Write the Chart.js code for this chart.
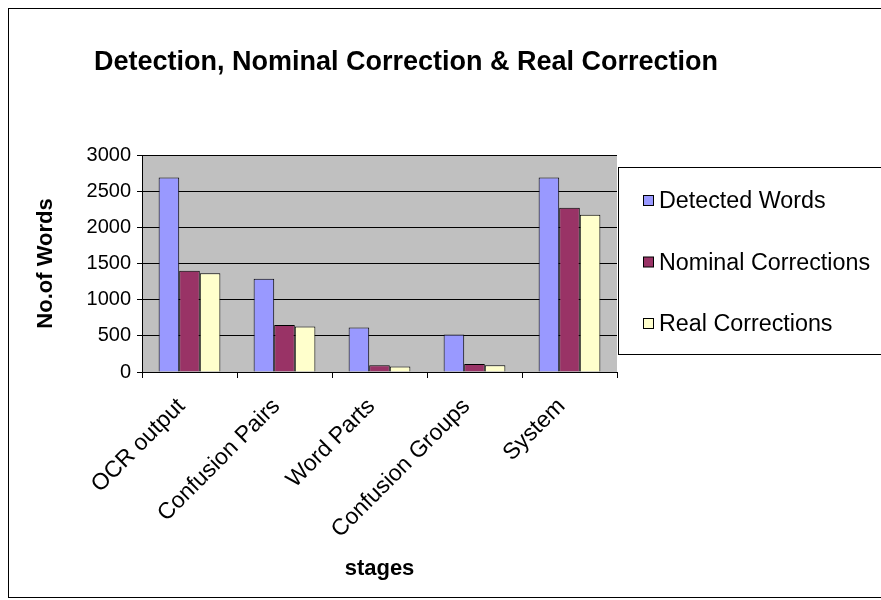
<!DOCTYPE html>
<html>
<head>
<meta charset="utf-8">
<style>
  html, body { margin: 0; padding: 0; background: #fff; }
  #wrap { width: 881px; height: 600px; }
</style>
</head>
<body>
<div id="wrap"><canvas id="myChart" width="881" height="600"></canvas></div>
<script src="https://cdn.jsdelivr.net/npm/chart.js"></script>
<script>
const stages = ["OCR output", "Confusion Pairs", "Word Parts", "Confusion Groups", "System"];
const detectedWords = [2690, 1290, 615, 520, 2690];
const nominalCorrections = [1400, 650, 92, 110, 2270];
const realCorrections = [1365, 630, 75, 92, 2175];
const yTicks = [0, 500, 1000, 1500, 2000, 2500, 3000];

const FONT = "'Liberation Sans', Arial, sans-serif";

// frame, title, grey plot area and the boxed legend
const decor = {
  id: "decor",
  beforeDraw(chart) {
    const ctx = chart.ctx;
    const a = chart.chartArea;
    ctx.save();
    ctx.fillStyle = "#fff";
    ctx.fillRect(0, 0, chart.width, chart.height);
    ctx.strokeStyle = "#000";
    ctx.lineWidth = 1;
    ctx.strokeRect(8.5, 8.5, 900, 589);
    ctx.fillStyle = "#c0c0c0";
    ctx.fillRect(a.left, a.top, a.right - a.left, a.bottom - a.top);
    ctx.fillStyle = "#000";
    ctx.font = "bold 27px " + FONT;
    ctx.textAlign = "center";
    ctx.textBaseline = "middle";
    ctx.fillText("Detection, Nominal Correction & Real Correction", 406, 63);
    ctx.restore();
  },
  afterDraw(chart) {
    const ctx = chart.ctx;
    ctx.save();
    ctx.fillStyle = "#fff";
    ctx.fillRect(618.5, 167.5, 300, 187);
    ctx.strokeStyle = "#000";
    ctx.lineWidth = 1;
    ctx.strokeRect(618.5, 167.5, 300, 187);
    ctx.font = "23.3px " + FONT;
    ctx.textBaseline = "middle";
    chart.data.datasets.forEach((ds, i) => {
      const y = 201 + i * 61.5;
      ctx.fillStyle = ds.backgroundColor;
      ctx.fillRect(643.5, y - 5.5, 10, 10);
      ctx.strokeRect(643.5, y - 5.5, 10, 10);
      ctx.fillStyle = "#000";
      ctx.fillText(ds.label, 659, y + 1);
    });
    ctx.restore();
  }
};

new Chart(document.getElementById("myChart"), {
  type: "bar",
  data: {
    labels: stages,
    datasets: [
      { label: "Detected Words", data: detectedWords, backgroundColor: "#9999ff" },
      { label: "Nominal Corrections", data: nominalCorrections, backgroundColor: "#993366" },
      { label: "Real Corrections", data: realCorrections, backgroundColor: "#ffffcc" }
    ]
  },
  options: {
    responsive: false,
    animation: false,
    layout: { padding: { left: 33, right: 264, top: 155, bottom: 18 } },
    datasets: {
      bar: { borderColor: "#000", borderWidth: 1, categoryPercentage: 0.65, barPercentage: 1 }
    },
    plugins: { legend: { display: false }, tooltip: { enabled: false } },
    scales: {
      x: {
        grid: { drawOnChartArea: false, color: "#000", tickLength: 6 },
        border: { color: "#000" },
        ticks: { color: "#000", font: { family: FONT, size: 23 }, minRotation: 45, maxRotation: 45, padding: 15, labelOffset: -8 },
        title: { display: true, text: "stages", color: "#000", font: { family: FONT, size: 22, weight: "bold" }, padding: 0 },
        afterFit(scale) { scale.height = 600 - 18 - 372; }
      },
      y: {
        min: 0,
        max: 3000,
        afterBuildTicks(scale) { scale.ticks = yTicks.map(v => ({ value: v })); },
        grid: { color: "#000", tickLength: 5 },
        border: { color: "#000" },
        ticks: { color: "#000", font: { family: FONT, size: 20 }, padding: 6, callback: v => String(v) },
        title: { display: true, text: "No.of Words", color: "#000", font: { family: FONT, size: 22, weight: "bold" }, padding: 0 },
        afterFit(scale) { scale.width = 142 - 33; }
      }
    }
  },
  plugins: [decor]
});
</script>
</body>
</html>
